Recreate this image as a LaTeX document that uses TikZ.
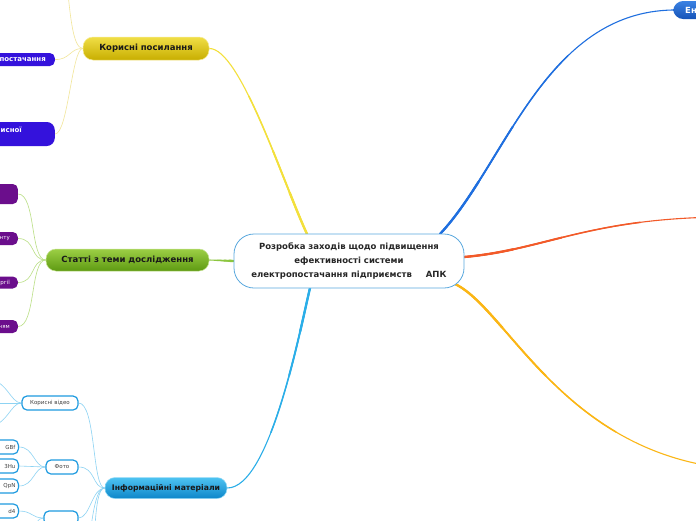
\documentclass[tikz,border=0pt]{standalone}
\usepackage{fontspec}
\setmainfont{DejaVu Sans}
\usetikzlibrary{calc,backgrounds}
\definecolor{cBorder}{HTML}{5AA8DE}
\definecolor{yTop}{HTML}{F0DE46}
\definecolor{yBot}{HTML}{C8AE00}
\definecolor{gTop}{HTML}{9CCF45}
\definecolor{gBot}{HTML}{5E9A12}
\definecolor{iTop}{HTML}{4EC3F2}
\definecolor{iBot}{HTML}{0D86C9}
\definecolor{eTop}{HTML}{3B82E3}
\definecolor{eBot}{HTML}{1553B8}
\definecolor{kBlue}{HTML}{3412DC}
\definecolor{sPurp}{HTML}{6B0E8C}
\definecolor{infoBorder}{HTML}{1E9BE0}
\definecolor{lYel}{HTML}{F3E03C}
\definecolor{lGreen}{HTML}{8CC63F}
\definecolor{lDBlue}{HTML}{1F6FDF}
\definecolor{lRed}{HTML}{F25A29}
\definecolor{lOrange}{HTML}{FBB615}
\definecolor{lLBlue}{HTML}{2BAEE8}
\definecolor{tYel}{HTML}{F2E69A}
\definecolor{tGreen}{HTML}{BADF85}
\definecolor{tBlue}{HTML}{8DD3F3}
\begin{document}
\begin{tikzpicture}[x=1pt,y=-1pt,
  mainnode/.style={draw=cBorder, line width=0.8pt, fill=white, rounded corners=20pt,
    minimum width=230pt, minimum height=54pt, inner sep=0pt,
    font=\bfseries\fontsize{8.5}{14}\selectfont, align=center, text=black!85},
  branch/.style={rounded corners=10pt, inner xsep=0pt, inner ysep=0pt,
    font=\bfseries\fontsize{8.5}{10}\selectfont},
  yelb/.style={branch, top color=yTop, bottom color=yBot, draw=yTop!60!white, line width=0.5pt, text=black!90},
  grnb/.style={branch, top color=gTop, bottom color=gBot, draw=gTop!60!white, line width=0.5pt, text=black!90},
  infb/.style={branch, top color=iTop, bottom color=iBot, draw=iTop!60!white, line width=0.5pt, text=black!90,
    font=\bfseries\fontsize{7.7}{9}\selectfont},
  enb/.style={branch, top color=eTop, bottom color=eBot, text=white},
  kbox/.style={fill=kBlue, rounded corners=5pt, text=white, inner ysep=0pt,
    font=\bfseries\fontsize{7}{8}\selectfont},
  ktext/.style={text=white, inner sep=0pt, font=\bfseries\fontsize{7}{8}\selectfont},
  pbox/.style={fill=sPurp, rounded corners=5pt, text=white, inner ysep=0pt,
    font=\fontsize{5.5}{6}\selectfont},
  isub/.style={draw=infoBorder, line width=1.2pt, fill=white, rounded corners=5pt,
    minimum height=14pt, inner ysep=0pt, font=\fontsize{5.5}{6}\selectfont, text=black!75},
  mainline/.style n args={3}{line width=1.1pt,
    postaction={draw, line width=1.5pt, dash pattern=on #1 off 3000pt},
    postaction={draw, line width=1.9pt, dash pattern=on #2 off 3000pt},
    postaction={draw, line width=2.3pt, dash pattern=on #3 off 3000pt}},
  thinline/.style={line width=0.6pt}
]
\useasboundingbox (0,0) rectangle (696,520);
\clip (0,0) rectangle (696,520);

% central node
\node[mainnode] (c) at (349,261) {Розробка заходів щодо підвищення\\ефективності системи\\електропостачання підприємств\hspace{14pt}АПК};

% main branches
\node[yelb, minimum width=126pt, minimum height=23pt] (kp) at (146,48.5) {Корисні посилання};
\node[grnb, minimum width=163pt, minimum height=22pt] (st) at (127.5,260) {Статті з теми дослідження};
\node[infb, minimum width=122pt, minimum height=21pt] (im) at (166,488) {Інформаційні матеріали};
\node[enb, anchor=west, minimum height=18pt, text width=46pt, align=left, inner xsep=12pt] (en) at (673,10) {Ен};
\coordinate (r1) at (730,217);
\coordinate (o1) at (760,470);

% children of Корисні посилання
\coordinate (k1) at (66,-25);
\node[kbox, anchor=east, text width=70pt, align=right, minimum height=13pt, inner xsep=9pt] (k2) at (55,59.5) {постачання};
\node[kbox, anchor=east, rounded corners=8pt, minimum width=100pt, minimum height=24pt] (k3) at (55,134) {};
\node[ktext, anchor=east] (k3t) at (22,130) {исної};

% children of Статті
\node[pbox, anchor=east, minimum width=60pt, minimum height=20pt] (s1) at (18,194) {};
\node[pbox, anchor=east, text width=40pt, align=right, minimum height=13pt, inner xsep=8pt] (s2) at (18,238.5) {нту};
\node[pbox, anchor=east, text width=40pt, align=right, minimum height=12pt, inner xsep=8pt] (s3) at (18,282.5) {ргії};
\node[pbox, anchor=east, text width=40pt, align=right, minimum height=13pt, inner xsep=8pt] (s4) at (18,326.5) {ням};

% children of Інформаційні матеріали
\node[isub, minimum width=56pt] (iv) at (50,403) {Корисні відео};
\node[isub, minimum width=32pt] (if) at (62,467) {Фото};
\node[isub, minimum width=34pt] (i3) at (61,518) {};
\coordinate (im4) at (84,560);
\coordinate (im5) at (90,600);
\coordinate (v1) at (-15,378);
\coordinate (v2) at (-15,403);
\coordinate (v3) at (-15,428);
\node[isub, anchor=east, text width=40pt, align=right, inner xsep=3pt] (g1) at (19,447) {GBf};
\node[isub, anchor=east, text width=40pt, align=right, inner xsep=3pt] (g2) at (19,466) {3Hu};
\node[isub, anchor=east, text width=40pt, align=right, inner xsep=3pt] (g3) at (19,486) {QpN};
\node[isub, anchor=east, text width=40pt, align=right, inner xsep=3pt] (g4) at (19,511) {d4};
\coordinate (g5) at (19,545);

\begin{scope}[on background layer]
\clip (0,0) rectangle (696,520);
\fill[white] (0,0) rectangle (696,520);
% main connectors (drawn outward from the centre, thicker near it)
\draw[lYel, mainline={150pt}{90pt}{45pt}] ($(c.center)+(-42,-27)$) .. controls (282,180) and (240,48) .. (kp.east);
\draw[lGreen, mainline={17pt}{10pt}{5pt}] (c.west) -- (st.east);
\draw[lDBlue, mainline={220pt}{130pt}{65pt}] ($(c.center)+(91,-27)$) .. controls (505,165) and (545,12) .. (en.west);
\draw[lRed, mainline={180pt}{100pt}{50pt}] ($(c.center)+(115,-4)$) .. controls (545,250) and (590,217) .. (r1);
\draw[lOrange, mainline={220pt}{130pt}{65pt}] ($(c.center)+(106,23)$) .. controls (510,310) and (570,470) .. (o1);
\draw[lLBlue, mainline={150pt}{90pt}{45pt}] ($(c.center)+(-39,27)$) .. controls (300,330) and (270,488) .. (im.east);
% thin connectors: Корисні посилання
\draw[thinline, tYel] (kp.west) .. controls (72,48) and (70,10) .. (k1);
\draw[thinline, tYel] (kp.west) .. controls (70,48) and (70,60) .. (k2.east);
\draw[thinline, tYel] (kp.west) .. controls (72,48) and (68,134) .. (k3.east);
% thin connectors: Статті
\draw[thinline, tGreen] (st.west) .. controls (30,260) and (36,194) .. (s1.east);
\draw[thinline, tGreen] (st.west) .. controls (30,260) and (36,238.5) .. (s2.east);
\draw[thinline, tGreen] (st.west) .. controls (30,260) and (36,282.5) .. (s3.east);
\draw[thinline, tGreen] (st.west) .. controls (30,260) and (36,326.5) .. (s4.east);
% thin connectors: Інформаційні матеріали
\draw[thinline, tBlue] (im.west) .. controls (92,488) and (96,403) .. (iv.east);
\draw[thinline, tBlue] (im.west) .. controls (92,488) and (96,467) .. (if.east);
\draw[thinline, tBlue] (im.west) .. controls (92,488) and (90,518) .. (i3.east);
\draw[thinline, tBlue] (im.west) .. controls (92,488) and (92,540) .. (im4);
\draw[thinline, tBlue] (im.west) .. controls (92,488) and (96,560) .. (im5);
\draw[thinline, tBlue] (iv.west) .. controls (10,403) and (8,380) .. (v1);
\draw[thinline, tBlue] (iv.west) -- (v2);
\draw[thinline, tBlue] (iv.west) .. controls (10,403) and (8,426) .. (v3);
\draw[thinline, tBlue] (if.west) .. controls (34,467) and (34,447) .. (g1.east);
\draw[thinline, tBlue] (if.west) -- (g2.east);
\draw[thinline, tBlue] (if.west) .. controls (34,467) and (34,486) .. (g3.east);
\draw[thinline, tBlue] (i3.west) .. controls (32,518) and (32,511) .. (g4.east);
\draw[thinline, tBlue] (i3.west) .. controls (32,518) and (32,545) .. (g5);
\end{scope}
\end{tikzpicture}
\end{document}
